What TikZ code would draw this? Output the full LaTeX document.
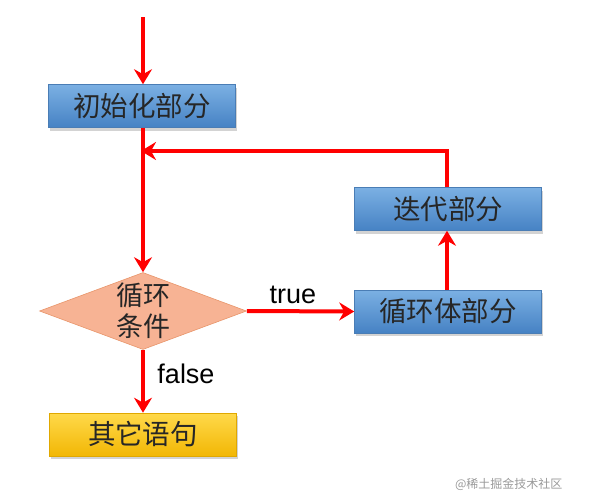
\documentclass[tikz,border=0pt]{standalone}
\usepackage{fontspec}
\setmainfont{Liberation Sans}
\newfontfamily\cjk{Noto Sans CJK SC}
\usetikzlibrary{shapes.geometric,arrows.meta,shadows}
\definecolor{bluetop}{HTML}{7BB0E3}
\definecolor{bluebot}{HTML}{4682C4}
\definecolor{blueedge}{HTML}{4A7DB5}
\definecolor{yeltop}{HTML}{FFD94A}
\definecolor{yelbot}{HTML}{F2B705}
\definecolor{yeledge}{HTML}{E0A800}
\definecolor{diafill}{HTML}{F7B394}
\definecolor{diaedge}{HTML}{E8956A}
\definecolor{arrowred}{HTML}{FF0000}
\tikzset{
  bluebox/.style={draw=blueedge, line width=0.6pt, top color=bluetop, bottom color=bluebot,
    minimum width=187pt, minimum height=43pt, inner sep=0pt,
    font=\cjk\fontsize{27.5pt}{30pt}\selectfont, text=black!85,
    drop shadow={shadow xshift=1.5pt, shadow yshift=-3pt, opacity=0.35}},
  yelbox/.style={bluebox, draw=yeledge, top color=yeltop, bottom color=yelbot},
  cond/.style={diamond, aspect=2.7, draw=diaedge, fill=diafill, line width=0.6pt,
    minimum width=207pt, minimum height=77pt, inner sep=0pt,
    font=\cjk\fontsize{27pt}{31pt}\selectfont, text=black!85, align=center},
  flow/.style={draw=arrowred, line width=4pt, -{Stealth[length=15pt,width=18pt,inset=5pt]}},
  lbl/.style={font=\fontsize{27pt}{30pt}\selectfont, text=black}
}
\begin{document}
\begin{tikzpicture}[x=1pt,y=-1pt]
\useasboundingbox (0,0) rectangle (590,504);
\node[bluebox] (init) at (142,106) {初始化部分};
\node[cond] (cond) at (143,311) {循环\\条件};
\node[bluebox] (iter) at (448,209) {迭代部分};
\node[bluebox] (body) at (448,311.5) {循环体部分};
\node[yelbox] (other) at (143,434.5) {其它语句};
\coordinate (start) at (143,17);
\coordinate (loopR) at (447,151);
\coordinate (loopL) at (143,151);
\coordinate (tl) at (293,295);
\coordinate (fl) at (186,374);
\draw[flow] (start) -- (init.north -| start);
\draw[flow] (init.south -| cond.north) -- (cond.north);
\draw[flow] (cond.east) -- (body.west);
\draw[flow] (cond.south) -- (other.north -| cond.south);
\draw[flow] (body.north -| loopR) -- (iter.south -| loopR);
\draw[flow, shorten >=-2pt] (iter.north -| loopR) -- (loopR) -- (loopL);
\node[lbl] (tlab) at (tl) {true};
\node[lbl] (flab) at (fl) {false};
\node[font=\cjk\fontsize{12pt}{14pt}\selectfont, text=black!40, anchor=east] (wm) at (566,484) {@稀土掘金技术社区};
\end{tikzpicture}
\end{document}
